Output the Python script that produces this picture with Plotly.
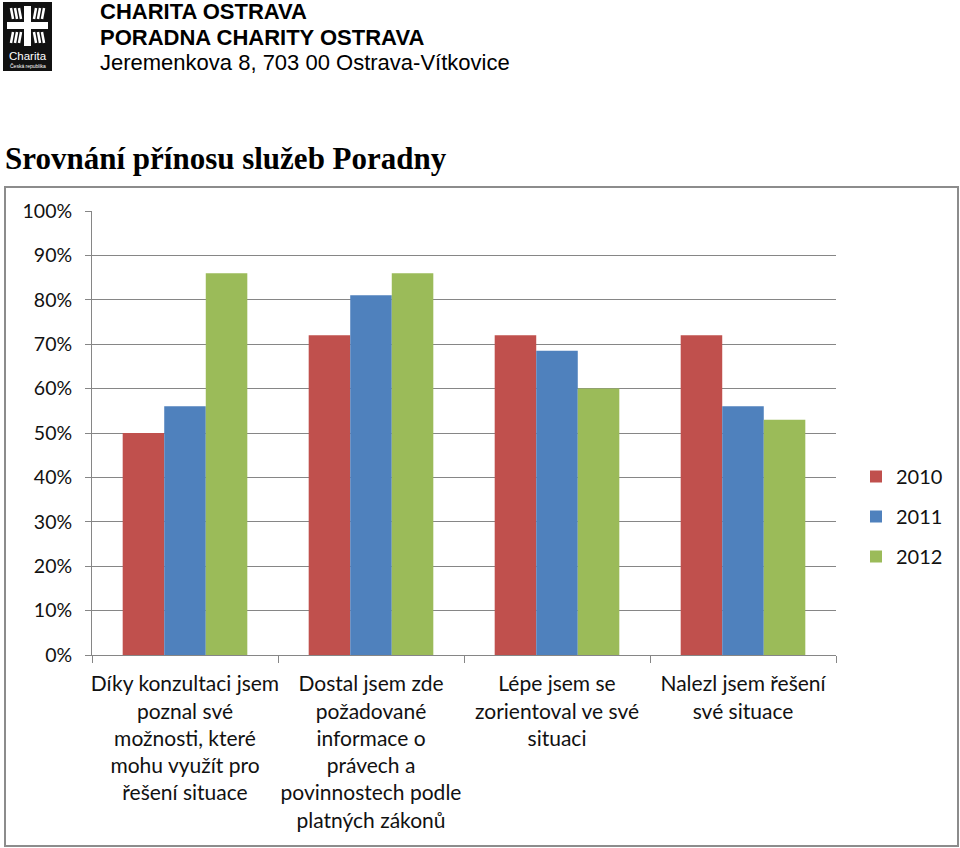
import plotly.graph_objects as go

categories = [
    "Díky konzultaci jsem<br>poznal své<br>možnosti, které<br>mohu využít pro<br>řešení situace",
    "Dostal jsem zde<br>požadované<br>informace o<br>právech a<br>povinnostech podle<br>platných zákonů",
    "Lépe jsem se<br>zorientoval ve své<br>situaci",
    "Nalezl jsem řešení<br>své situace",
]
series_names = ["2010", "2011", "2012"]
values_2010 = [0.50, 0.72, 0.72, 0.72]
values_2011 = [0.56, 0.81, 0.685, 0.56]
values_2012 = [0.86, 0.86, 0.60, 0.53]
colors = ["#C0504D", "#4F81BD", "#9BBB59"]
y_ticks = [i / 10 for i in range(11)]
y_tick_labels = [f"{i*10}%" for i in range(11)]

W, H = 960, 848
L, R, T, B = 92, 836, 211, 655  # plot area in pixels


def px(x):
    return (x - L) / (R - L)


def py(y):
    return (B - y) / (B - T)


fig = go.Figure()
for name, vals, col in zip(series_names, [values_2010, values_2011, values_2012], colors):
    fig.add_trace(go.Bar(x=categories, y=vals, name=name, marker_color=col,
                         marker_line_width=0, legendgroup=name))

GRID = "#868686"
font_body = "Lato, Carlito, Calibri, sans-serif"

shapes = []
# chart frame
shapes.append(dict(type="rect", xref="paper", yref="paper", x0=px(5), x1=px(958), y0=py(846), y1=py(187),
                   line=dict(color="#8c8c8c", width=2), layer="below"))
# logo
shapes.append(dict(type="rect", xref="paper", yref="paper", x0=px(3), x1=px(52), y0=py(71), y1=py(2),
                   fillcolor="#111111", line=dict(width=0)))
shapes.append(dict(type="rect", xref="paper", yref="paper", x0=px(24), x1=px(31), y0=py(46), y1=py(6),
                   fillcolor="white", line=dict(width=0)))
shapes.append(dict(type="rect", xref="paper", yref="paper", x0=px(7), x1=px(48), y0=py(29), y1=py(22),
                   fillcolor="white", line=dict(width=0)))
# rays in quadrants
for (cx, cy, sx, sy) in [(21, 19, -1, -1), (34, 19, 1, -1), (21, 32, -1, 1), (34, 32, 1, 1)]:
    for k in range(3):
        off = 4 * k
        shapes.append(dict(type="line", xref="paper", yref="paper",
                           x0=px(cx + sx * off), y0=py(cy),
                           x1=px(cx + sx * (off + 2)), y1=py(cy + sy * 11),
                           line=dict(color="white", width=2.5)))

hdr_font = dict(family="Liberation Sans, Arial", size=22, color="#000")
annotations = [
    dict(text="<b>CHARITA OSTRAVA</b>", x=px(99), y=py(11.5), xref="paper", yref="paper",
         xanchor="left", yanchor="middle", showarrow=False, borderpad=0, font=hdr_font),
    dict(text="<b>PORADNA CHARITY OSTRAVA</b>", x=px(99), y=py(37), xref="paper", yref="paper",
         xanchor="left", yanchor="middle", showarrow=False, borderpad=0, font=hdr_font),
    dict(text="Jeremenkova 8, 703 00 Ostrava-Vítkovice", x=px(99), y=py(62.5), xref="paper", yref="paper",
         xanchor="left", yanchor="middle", showarrow=False, borderpad=0, font=hdr_font),
    dict(text="<b>Srovnání přínosu služeb Poradny</b>", x=px(3), y=py(158), xref="paper", yref="paper",
         xanchor="left", yanchor="middle", showarrow=False,
         font=dict(family="Liberation Serif, DejaVu Serif, serif", size=31, color="#000")),
    dict(text="Charita", x=px(27.5), y=py(55.5), xref="paper", yref="paper",
         xanchor="center", yanchor="middle", showarrow=False, borderpad=0,
         font=dict(family="Liberation Sans, Arial", size=11.5, color="white")),
    dict(text="Česká republika", x=px(27.5), y=py(66.5), xref="paper", yref="paper",
         xanchor="center", yanchor="middle", showarrow=False, borderpad=0,
         font=dict(family="Liberation Sans, Arial", size=5, color="white")),
]

fig.update_layout(
    width=W, height=H,
    margin=dict(l=L, r=W - R, t=T, b=H - B, pad=0, autoexpand=False),
    paper_bgcolor="white", plot_bgcolor="white",
    barmode="group", bargap=0.33, bargroupgap=0,
    showlegend=True,
    legend=dict(x=px(856), y=py(457), xanchor="left", yanchor="top",
                font=dict(family=font_body, size=20, color="#111"),
                traceorder="grouped", tracegroupgap=11, bgcolor="rgba(0,0,0,0)"),
    shapes=shapes, annotations=annotations,
    font=dict(family=font_body, color="#111"),
)
fig.update_yaxes(range=[0, 1], tickvals=y_ticks, ticktext=y_tick_labels,
                 showgrid=True, gridcolor=GRID, gridwidth=1,
                 showline=True, linecolor=GRID, linewidth=1,
                 ticks="outside", ticklen=6, tickcolor=GRID,
                 tickfont=dict(family=font_body, size=19.5, color="#111"),
                 ticklabelstandoff=9, zeroline=False, fixedrange=True, automargin=False)
fig.update_xaxes(showline=True, linecolor=GRID, linewidth=1,
                 ticks="outside", ticklen=7, tickcolor=GRID, tickson="boundaries",
                 tickangle=0,
                 tickfont=dict(family=font_body, size=21, color="#111"),
                 ticklabelstandoff=10, showgrid=False, fixedrange=True, automargin=False)

fig.write_html("out.html", config={"displayModeBar": False},
               post_script="document.body.style.margin='0';document.body.style.overflow='hidden';")
